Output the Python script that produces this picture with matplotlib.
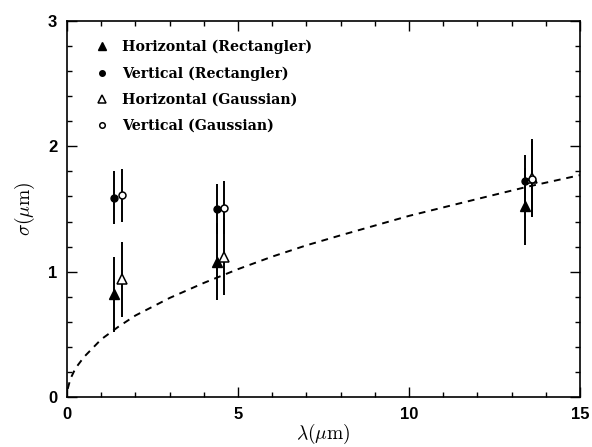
import numpy as np
import matplotlib.pyplot as plt
from matplotlib.ticker import MultipleLocator

# lambda (um) positions of each series
x_hr = [1.37, 4.39, 13.39]
x_vr = [1.37, 4.39, 13.39]
x_hg = [1.61, 4.59, 13.60]
x_vg = [1.61, 4.59, 13.60]

# sigma (um) values and error bars
y_hr = [0.82, 1.08, 1.52]
e_hr = [0.30, 0.31, 0.31]
y_vr = [1.59, 1.50, 1.72]
e_vr = [0.21, 0.20, 0.21]
y_hg = [0.94, 1.12, 1.75]
e_hg = [0.30, 0.31, 0.31]
y_vg = [1.61, 1.51, 1.74]
e_vg = [0.21, 0.21, 0.30]

# dashed curve
curve_x = [0.02, 0.1, 0.25, 0.5, 1, 1.5, 2, 3, 4, 5, 6, 7, 8, 10, 12, 13.5, 15]
curve_y = [0.065, 0.145, 0.23, 0.32, 0.46, 0.56, 0.65, 0.79, 0.91, 1.02, 1.12, 1.21, 1.29, 1.445, 1.58, 1.68, 1.77]

labels = ['Horizontal (Rectangler)', 'Vertical (Rectangler)',
          'Horizontal (Gaussian)', 'Vertical (Gaussian)']

plt.rcParams['mathtext.fontset'] = 'cm'
fig = plt.figure(figsize=(5.92, 4.47), dpi=100)
ax = fig.add_axes([0.1132, 0.1119, 0.8665, 0.8411])

ax.plot(curve_x, curve_y, '--', color='black', lw=1.4, dashes=(3.5, 3))

ekw = dict(ecolor='black', elinewidth=1.4, capsize=0, linestyle='none', color='black')
ax.errorbar(x_hr, y_hr, yerr=e_hr, marker='^', ms=7, mfc='black', **ekw)
ax.errorbar(x_vr, y_vr, yerr=e_vr, marker='o', ms=5, mfc='black', **ekw)
ax.errorbar(x_hg, y_hg, yerr=e_hg, marker='^', ms=7, mfc='white', mew=1.1, **ekw)
ax.errorbar(x_vg, y_vg, yerr=e_vg, marker='o', ms=5, mfc='white', mew=1.1, **ekw)

lh = [plt.Line2D([], [], marker='^', ms=6, color='black', ls='none'),
      plt.Line2D([], [], marker='o', ms=4, color='black', ls='none'),
      plt.Line2D([], [], marker='^', ms=6, color='black', mfc='white', mew=1.1, ls='none'),
      plt.Line2D([], [], marker='o', ms=4, color='black', mfc='white', mew=1.1, ls='none')]
ax.legend(lh, labels, loc='upper left', bbox_to_anchor=(0.041, 0.965),
          frameon=False, handlelength=1.2, handletextpad=0.8, labelspacing=0.85,
          borderaxespad=0,
          prop=dict(family='DejaVu Serif', weight='bold', size=10.2))

ax.set_xlim(0, 15)
ax.set_ylim(0, 3)
ax.xaxis.set_major_locator(MultipleLocator(5))
ax.xaxis.set_minor_locator(MultipleLocator(1))
ax.yaxis.set_major_locator(MultipleLocator(1))
ax.yaxis.set_minor_locator(MultipleLocator(0.2))
ax.tick_params(which='both', direction='in', top=True, right=True, width=1)
ax.tick_params(which='major', length=7, labelsize=12, pad=7)
ax.tick_params(which='minor', length=3.5)
for lab in ax.get_xticklabels() + ax.get_yticklabels():
    lab.set_fontweight('bold')
    lab.set_family('Liberation Sans')
for s in ax.spines.values():
    s.set_linewidth(1.2)

ax.set_xlabel(r'$\lambda(\mu\mathrm{m})$', fontsize=14, labelpad=0)
ax.set_ylabel(r'$\sigma(\mu\mathrm{m})$', fontsize=14, labelpad=8)

plt.savefig('out.png', dpi=100)
